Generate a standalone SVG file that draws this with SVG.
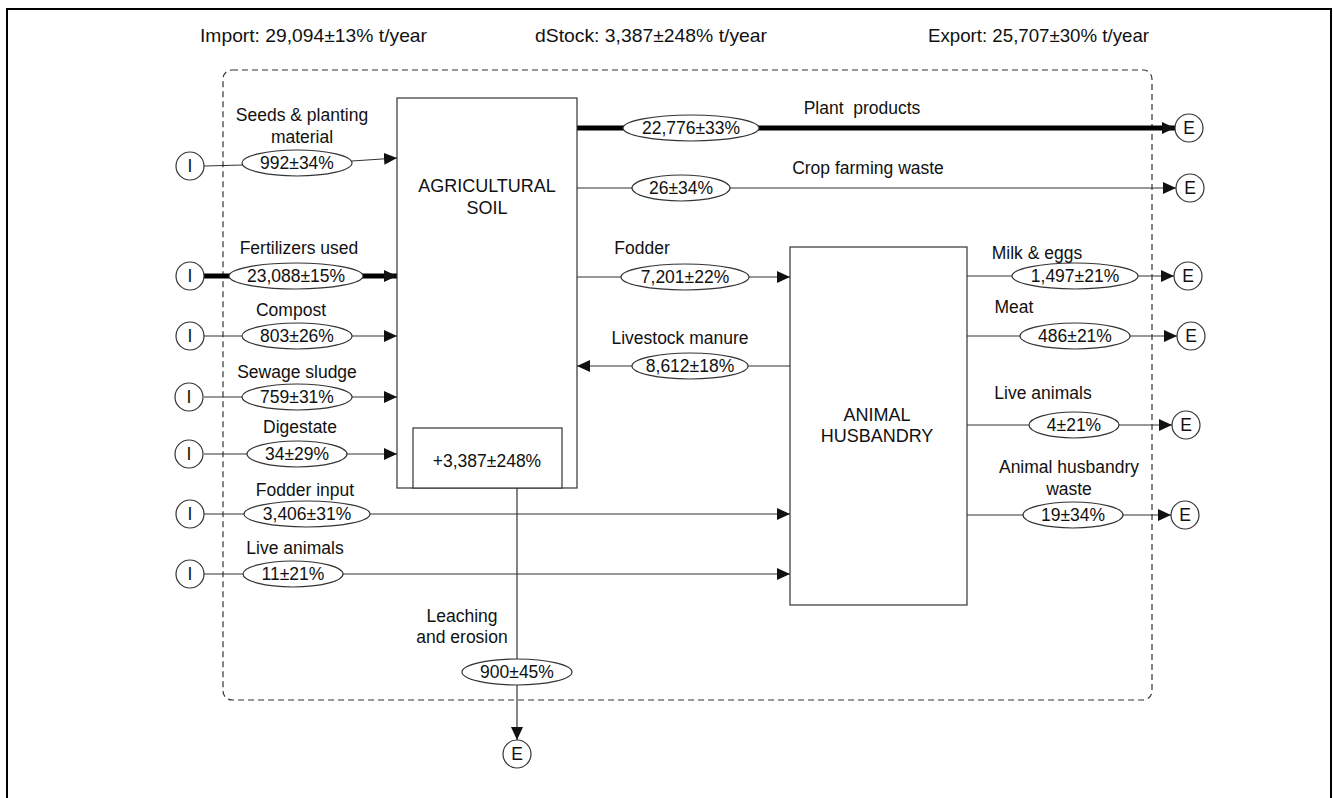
<svg xmlns="http://www.w3.org/2000/svg" width="1333" height="798" viewBox="0 0 1333 798">
<defs>
<marker id="arr" markerUnits="userSpaceOnUse" markerWidth="14" markerHeight="12" refX="13" refY="6" orient="auto">
<path d="M0,0 L13,6 L0,12 Z" fill="#111"/>
</marker>
<style>
.t{font-family:"Liberation Sans",Arial,sans-serif;font-size:17.5px;fill:#111;text-anchor:middle;dominant-baseline:central}
.h{font-family:"Liberation Sans",Arial,sans-serif;font-size:18.5px;fill:#111}
.ln{stroke:#333;stroke-width:1.2;fill:none}
.tk{stroke:#000;stroke-width:5;fill:none}
.ar{marker-end:url(#arr)}
.el{fill:#fff;stroke:#333;stroke-width:1.2}
.cir{fill:#fff;stroke:#333;stroke-width:1.2}
.box{fill:#fff;stroke:#333;stroke-width:1.2}
</style>
</defs>
<rect x="0" y="0" width="1333" height="798" fill="#fff"/>
<rect x="7" y="9" width="1324" height="800" fill="none" stroke="#000" stroke-width="2"/>
<g id="header">
<text class="h" x="200" y="42" textLength="227" lengthAdjust="spacingAndGlyphs">Import: 29,094±13% t/year</text>
<text class="h" x="535" y="42" textLength="232" lengthAdjust="spacingAndGlyphs">dStock: 3,387±248% t/year</text>
<text class="h" x="928" y="42" textLength="221" lengthAdjust="spacingAndGlyphs">Export: 25,707±30% t/year</text>
</g>
<rect id="boundary" x="223" y="70" width="929" height="630" rx="9" fill="none" stroke="#333" stroke-width="1.2" stroke-dasharray="6,4"/>

<g id="connectors">
<path class="ln ar" d="M204,166 L243,165 M352,161 L397,158"/>
<line class="tk ar" x1="204" y1="276" x2="397" y2="276"/>
<line class="ln ar" x1="204" y1="336" x2="397" y2="336"/>
<line class="ln ar" x1="204" y1="397" x2="397" y2="397"/>
<line class="ln ar" x1="204" y1="454" x2="397" y2="454"/>
<line class="ln ar" x1="204" y1="514" x2="790" y2="514"/>
<line class="ln ar" x1="204" y1="574" x2="790" y2="574"/>
<line class="tk ar" x1="577" y1="128" x2="1175" y2="128"/>
<line class="ln ar" x1="577" y1="188" x2="1176" y2="188"/>
<line class="ln ar" x1="577" y1="277" x2="790" y2="277"/>
<line class="ln ar" x1="790" y1="366" x2="577" y2="366"/>
<line class="ln ar" x1="517" y1="488" x2="517" y2="740"/>
<line class="ln ar" x1="967" y1="276" x2="1174" y2="276"/>
<line class="ln ar" x1="967" y1="336" x2="1177" y2="336"/>
<line class="ln ar" x1="967" y1="425" x2="1172" y2="425"/>
<line class="ln ar" x1="967" y1="515" x2="1171" y2="515"/>

<g id="values">
<ellipse class="el" cx="297" cy="163" rx="55" ry="13"/><text class="t" x="297" y="163">992±34%</text>
<ellipse class="el" cx="296" cy="276" rx="67" ry="13"/><text class="t" x="296" y="276">23,088±15%</text>
<ellipse class="el" cx="297" cy="336" rx="55" ry="13"/><text class="t" x="297" y="336">803±26%</text>
<ellipse class="el" cx="297" cy="397" rx="55" ry="13"/><text class="t" x="297" y="397">759±31%</text>
<ellipse class="el" cx="297" cy="454" rx="50" ry="13"/><text class="t" x="297" y="454">34±29%</text>
<ellipse class="el" cx="307" cy="514" rx="63" ry="13"/><text class="t" x="307" y="514">3,406±31%</text>
<ellipse class="el" cx="293" cy="574" rx="50" ry="13"/><text class="t" x="293" y="574">11±21%</text>
<ellipse class="el" cx="517" cy="672" rx="55" ry="13"/><text class="t" x="517" y="672">900±45%</text>
<ellipse class="el" cx="691" cy="128" rx="68" ry="13"/><text class="t" x="691" y="128">22,776±33%</text>
<ellipse class="el" cx="681" cy="188" rx="49" ry="13"/><text class="t" x="681" y="188">26±34%</text>
<ellipse class="el" cx="685" cy="277" rx="64" ry="13"/><text class="t" x="685" y="277">7,201±22%</text>
<ellipse class="el" cx="690" cy="366" rx="58" ry="13"/><text class="t" x="690" y="366">8,612±18%</text>
<ellipse class="el" cx="1075" cy="276" rx="63" ry="13"/><text class="t" x="1075" y="276">1,497±21%</text>
<ellipse class="el" cx="1075" cy="336" rx="55" ry="13"/><text class="t" x="1075" y="336">486±21%</text>
<ellipse class="el" cx="1074" cy="425" rx="45" ry="13"/><text class="t" x="1074" y="425">4±21%</text>
<ellipse class="el" cx="1073" cy="515" rx="50" ry="13"/><text class="t" x="1073" y="515">19±34%</text>
</g>

<g id="flow-labels">
<text class="t" x="302" y="115">Seeds &amp; planting</text>
<text class="t" x="302" y="137">material</text>
<text class="t" x="299" y="248">Fertilizers used</text>
<text class="t" x="291" y="310">Compost</text>
<text class="t" x="297" y="372">Sewage sludge</text>
<text class="t" x="300" y="427">Digestate</text>
<text class="t" x="305" y="490">Fodder input</text>
<text class="t" x="295" y="548">Live animals</text>
<text class="t" x="462" y="616">Leaching</text>
<text class="t" x="462" y="637">and erosion</text>
<text class="t" x="862" y="108" xml:space="preserve">Plant  products</text>
<text class="t" x="868" y="168">Crop farming waste</text>
<text class="t" x="642" y="248">Fodder</text>
<text class="t" x="680" y="338">Livestock manure</text>
<text class="t" x="1037" y="253">Milk &amp; eggs</text>
<text class="t" x="1014" y="307">Meat</text>
<text class="t" x="1043" y="393">Live animals</text>
<text class="t" x="1069" y="467">Animal husbandry</text>
<text class="t" x="1069" y="489">waste</text>
</g>
</g>

<g id="agricultural-soil">
<rect class="box" x="397" y="98" width="180" height="390"/>
<text class="t" x="487" y="186" style="font-size:18px">AGRICULTURAL</text>
<text class="t" x="487" y="208" style="font-size:18px">SOIL</text>
</g>
<g id="stock">
<rect class="box" x="413" y="428" width="149" height="60"/>
<text class="t" x="487" y="461">+3,387±248%</text>
</g>
<g id="animal-husbandry">
<rect class="box" x="790" y="247" width="177" height="358"/>
<text class="t" x="877" y="415" style="font-size:18px">ANIMAL</text>
<text class="t" x="877" y="436" style="font-size:18px">HUSBANDRY</text>
</g>

<g id="import-nodes">
<g id="i1"><circle class="cir" cx="190" cy="166" r="14"/><text class="t" x="190" y="166">I</text></g>
<g id="i2"><circle class="cir" cx="190" cy="276" r="14"/><text class="t" x="190" y="276">I</text></g>
<g id="i3"><circle class="cir" cx="190" cy="336" r="14"/><text class="t" x="190" y="336">I</text></g>
<g id="i4"><circle class="cir" cx="189" cy="397" r="14"/><text class="t" x="189" y="397">I</text></g>
<g id="i5"><circle class="cir" cx="189" cy="454" r="14"/><text class="t" x="189" y="454">I</text></g>
<g id="i6"><circle class="cir" cx="190" cy="514" r="14"/><text class="t" x="190" y="514">I</text></g>
<g id="i7"><circle class="cir" cx="190" cy="574" r="14"/><text class="t" x="190" y="574">I</text></g>
</g>
<g id="export-nodes">
<g id="e1"><circle class="cir" cx="1189" cy="128" r="14"/><text class="t" x="1189" y="128">E</text></g>
<g id="e2"><circle class="cir" cx="1190" cy="188" r="14"/><text class="t" x="1190" y="188">E</text></g>
<g id="e3"><circle class="cir" cx="1188" cy="276" r="14"/><text class="t" x="1188" y="276">E</text></g>
<g id="e4"><circle class="cir" cx="1191" cy="336" r="14"/><text class="t" x="1191" y="336">E</text></g>
<g id="e5"><circle class="cir" cx="1186" cy="425" r="14"/><text class="t" x="1186" y="425">E</text></g>
<g id="e6"><circle class="cir" cx="1185" cy="515" r="14"/><text class="t" x="1185" y="515">E</text></g>
<g id="e7"><circle class="cir" cx="517" cy="754" r="14"/><text class="t" x="517" y="754">E</text></g>
</g>
</svg>
